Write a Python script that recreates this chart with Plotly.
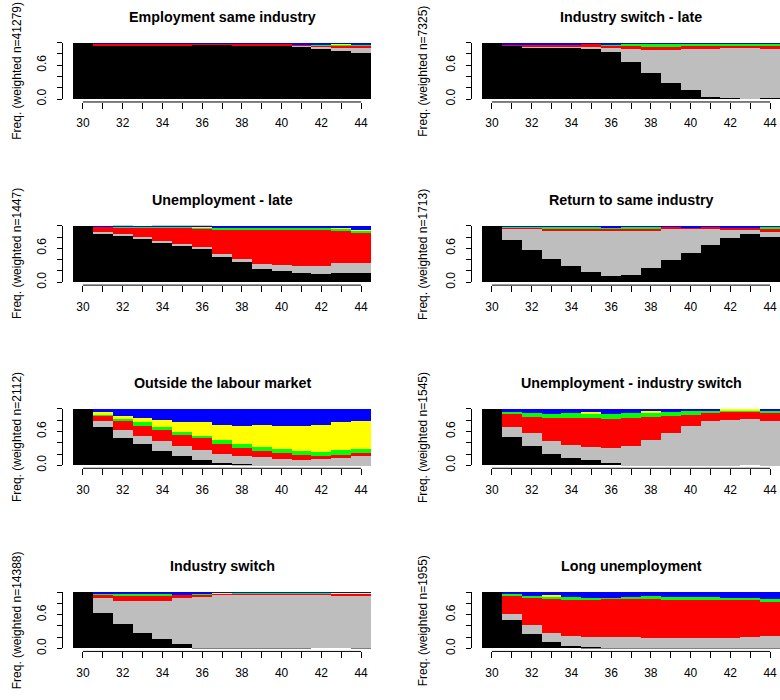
import plotly.graph_objects as go

ages = list(range(30, 45))
tick_labels = [str(a) if a % 2 == 0 else "" for a in ages]
y_ticks = [0, 0.2, 0.4, 0.6, 0.8, 1.0]
y_tick_labels = ["0.0", "", "", "0.6", "", ""]

state_colors = ["#000000", "#BEBEBE", "#FF0000", "#00FF00", "#FFFF00", "#0000FF"]

titles = ["Employment same industry", "Industry switch - late", "Unemployment - late",
          "Return to same industry", "Outside the labour market",
          "Unemployment - industry switch", "Industry switch", "Long unemployment"]
weighted_n = [41279, 7325, 1447, 1713, 2112, 1545, 14388, 1955]

# Panel 1: Employment same industry
p1_black = [1.0, 0.948, 0.948, 0.948, 0.948, 0.948, 0.971, 0.971, 0.948, 0.948, 0.948, 0.93, 0.901, 0.86, 0.831]
p1_grey = [0, 0, 0, 0, 0, 0, 0, 0, 0, 0, 0, 0.017, 0.029, 0.058, 0.087]
p1_red = [0, 0.035, 0.035, 0.035, 0.035, 0.035, 0.012, 0.012, 0.035, 0.035, 0.035, 0.035, 0.023, 0.029, 0.029]
p1_green = [0, 0, 0, 0, 0, 0, 0, 0, 0, 0, 0, 0, 0.029, 0.029, 0.035]
p1_yellow = [0, 0, 0, 0, 0, 0, 0, 0, 0, 0, 0, 0, 0, 0.007, 0]
p1_blue = [0, 0.017, 0.017, 0.017, 0.017, 0.017, 0.017, 0.017, 0.017, 0.017, 0.017, 0.017, 0.017, 0.017, 0.017]

# Panel 2: Industry switch - late
p2_black = [1.0, 0.948, 0.924, 0.924, 0.924, 0.895, 0.843, 0.657, 0.465, 0.291, 0.163, 0.047, 0.023, 0.006, 0.023]
p2_grey = [0, 0, 0.017, 0.017, 0.017, 0.041, 0.081, 0.244, 0.419, 0.593, 0.733, 0.849, 0.89, 0.913, 0.878]
p2_red = [0, 0.029, 0.035, 0.035, 0.035, 0.047, 0.023, 0.047, 0.052, 0.052, 0.052, 0.052, 0.035, 0.029, 0.047]
p2_green = [0, 0, 0, 0, 0, 0, 0.035, 0.035, 0.047, 0.047, 0.035, 0.035, 0.035, 0.035, 0.035]
p2_yellow = [0, 0, 0, 0, 0, 0, 0, 0, 0, 0, 0, 0, 0, 0, 0]
p2_blue = [0, 0.023, 0.023, 0.023, 0.023, 0.017, 0.017, 0.017, 0.017, 0.017, 0.017, 0.017, 0.017, 0.017, 0.017]

# Panel 3: Unemployment - late
p3_black = [1.0, 0.87, 0.835, 0.782, 0.712, 0.659, 0.594, 0.453, 0.365, 0.235, 0.206, 0.165, 0.147, 0.165, 0.165]
p3_grey = [0, 0.024, 0.018, 0.018, 0.024, 0.024, 0.03, 0.059, 0.047, 0.1, 0.106, 0.129, 0.147, 0.171, 0.188]
p3_red = [0, 0.094, 0.118, 0.17, 0.229, 0.282, 0.329, 0.429, 0.518, 0.594, 0.618, 0.635, 0.647, 0.582, 0.518]
p3_green = [0, 0, 0.018, 0.018, 0.024, 0.024, 0.018, 0.035, 0.047, 0.047, 0.047, 0.047, 0.035, 0.041, 0.047]
p3_yellow = [0, 0, 0, 0, 0, 0, 0.024, 0, 0, 0, 0, 0, 0, 0.018, 0.012]
p3_blue = [0, 0.012, 0.012, 0.012, 0.012, 0.012, 0.006, 0.024, 0.024, 0.024, 0.024, 0.024, 0.024, 0.024, 0.071]

# Panel 4: Return to same industry
p4_black = [1.0, 0.756, 0.581, 0.413, 0.291, 0.18, 0.122, 0.14, 0.256, 0.39, 0.523, 0.663, 0.779, 0.866, 0.814]
p4_grey = [0, 0.203, 0.372, 0.5, 0.622, 0.733, 0.802, 0.785, 0.669, 0.558, 0.424, 0.285, 0.145, 0.058, 0.087]
p4_red = [0, 0.006, 0.012, 0.047, 0.047, 0.047, 0.035, 0.035, 0.035, 0.035, 0.035, 0.035, 0.058, 0.058, 0.047]
p4_green = [0, 0.023, 0.023, 0.023, 0.023, 0.023, 0.023, 0.023, 0.023, 0, 0, 0, 0, 0, 0.035]
p4_yellow = [0, 0, 0, 0, 0, 0, 0, 0, 0, 0, 0, 0, 0, 0, 0]
p4_blue = [0, 0.012, 0.012, 0.017, 0.017, 0.017, 0.017, 0.017, 0.017, 0.017, 0.017, 0.017, 0.017, 0.017, 0.017]

# Panel 5: Outside the labour market
p5_black = [1.0, 0.676, 0.488, 0.371, 0.247, 0.159, 0.1, 0.047, 0.018, 0.012, 0.012, 0.012, 0.012, 0.012, 0.012]
p5_grey = [0, 0.106, 0.147, 0.159, 0.194, 0.182, 0.176, 0.159, 0.147, 0.135, 0.106, 0.088, 0.094, 0.124, 0.153]
p5_red = [0, 0.1, 0.147, 0.176, 0.188, 0.2, 0.206, 0.176, 0.141, 0.112, 0.106, 0.088, 0.053, 0.053, 0.059]
p5_green = [0, 0.018, 0.041, 0.059, 0.059, 0.047, 0.047, 0.071, 0.071, 0.076, 0.071, 0.071, 0.082, 0.076, 0.059]
p5_yellow = [0, 0.041, 0.047, 0.071, 0.124, 0.176, 0.235, 0.271, 0.329, 0.382, 0.412, 0.447, 0.482, 0.5, 0.5]
p5_blue = [0, 0.059, 0.129, 0.165, 0.188, 0.235, 0.235, 0.276, 0.294, 0.282, 0.294, 0.294, 0.276, 0.235, 0.218]

# Panel 6: Unemployment - industry switch
p6_black = [1.0, 0.512, 0.341, 0.206, 0.129, 0.088, 0.047, 0.012, 0.012, 0.012, 0.012, 0.012, 0.012, 0.0, 0.012]
p6_grey = [0, 0.176, 0.229, 0.224, 0.235, 0.235, 0.259, 0.329, 0.441, 0.559, 0.694, 0.771, 0.794, 0.824, 0.771]
p6_red = [0, 0.229, 0.288, 0.406, 0.471, 0.512, 0.518, 0.5, 0.406, 0.312, 0.188, 0.159, 0.153, 0.135, 0.159]
p6_green = [0, 0.035, 0.071, 0.082, 0.094, 0.082, 0.094, 0.088, 0.082, 0.071, 0.065, 0.035, 0.018, 0.018, 0.018]
p6_yellow = [0, 0, 0, 0, 0, 0.024, 0, 0, 0.018, 0, 0, 0, 0.024, 0.024, 0]
p6_blue = [0, 0.047, 0.071, 0.082, 0.071, 0.059, 0.082, 0.071, 0.041, 0.047, 0.041, 0.024, 0, 0, 0.041]

# Panel 7: Industry switch
p7_black = [1.0, 0.622, 0.436, 0.279, 0.163, 0.081, 0.012, 0.012, 0.012, 0.012, 0.012, 0.012, 0.0, 0.0, 0.012]
p7_grey = [0, 0.279, 0.407, 0.564, 0.68, 0.808, 0.901, 0.936, 0.936, 0.936, 0.936, 0.936, 0.948, 0.924, 0.913]
p7_red = [0, 0.058, 0.081, 0.081, 0.081, 0.058, 0.041, 0.023, 0.017, 0.017, 0.017, 0.017, 0.017, 0.041, 0.041]
p7_green = [0, 0.017, 0.041, 0.041, 0.041, 0.017, 0.017, 0, 0.023, 0.023, 0.023, 0.023, 0.023, 0, 0]
p7_yellow = [0, 0, 0, 0, 0, 0, 0, 0.017, 0, 0, 0, 0, 0, 0.023, 0.023]
p7_blue = [0, 0.023, 0.035, 0.035, 0.035, 0.035, 0.029, 0.012, 0.012, 0.012, 0.012, 0.012, 0.012, 0.012, 0.012]

# Panel 8: Long unemployment
p8_black = [1.0, 0.512, 0.253, 0.106, 0.047, 0.024, 0.012, 0.012, 0.012, 0.012, 0.012, 0.012, 0.012, 0.012, 0.012]
p8_grey = [0, 0.094, 0.171, 0.176, 0.176, 0.182, 0.182, 0.182, 0.176, 0.176, 0.176, 0.176, 0.176, 0.194, 0.212]
p8_red = [0, 0.335, 0.476, 0.6, 0.641, 0.659, 0.688, 0.688, 0.694, 0.676, 0.676, 0.676, 0.676, 0.659, 0.6]
p8_green = [0, 0.018, 0.029, 0.035, 0.047, 0.035, 0.018, 0.024, 0.047, 0.047, 0.047, 0.047, 0.035, 0.029, 0.059]
p8_yellow = [0, 0, 0, 0.024, 0, 0, 0, 0, 0, 0, 0, 0, 0, 0, 0]
p8_blue = [0, 0.041, 0.071, 0.059, 0.088, 0.1, 0.1, 0.094, 0.071, 0.088, 0.088, 0.088, 0.1, 0.106, 0.118]

panels = [
    [p1_black, p1_grey, p1_red, p1_green, p1_yellow, p1_blue],
    [p2_black, p2_grey, p2_red, p2_green, p2_yellow, p2_blue],
    [p3_black, p3_grey, p3_red, p3_green, p3_yellow, p3_blue],
    [p4_black, p4_grey, p4_red, p4_green, p4_yellow, p4_blue],
    [p5_black, p5_grey, p5_red, p5_green, p5_yellow, p5_blue],
    [p6_black, p6_grey, p6_red, p6_green, p6_yellow, p6_blue],
    [p7_black, p7_grey, p7_red, p7_green, p7_yellow, p7_blue],
    [p8_black, p8_grey, p8_red, p8_green, p8_yellow, p8_blue],
]

W, H = 780, 700
FONT = "Liberation Sans, Arial, sans-serif"

fig = go.Figure()
layout = dict(
    width=W, height=H, margin=dict(l=0, r=0, t=0, b=0),
    paper_bgcolor="white", plot_bgcolor="white",
    barmode="stack", bargap=0, showlegend=False,
    font=dict(family=FONT, size=12, color="black"),
)
annotations = []
shapes = []

for i, series in enumerate(panels):
    k = i + 1
    r, c = divmod(i, 2)
    top_px = 43 + 185 * r
    bot_px = 100 + 185 * r
    x_left = 73 if c == 0 else 482
    x_right = 371 if c == 0 else 780
    xname = "xaxis" if k == 1 else f"xaxis{k}"
    yname = "yaxis" if k == 1 else f"yaxis{k}"
    xref = "x" if k == 1 else f"x{k}"
    yref = "y" if k == 1 else f"y{k}"

    for vals, col in zip(series, state_colors):
        fig.add_trace(go.Bar(
            x=ages, y=vals, xaxis=xref, yaxis=yref, width=1,
            marker=dict(color=col, line=dict(width=0)),
            hoverinfo="skip", showlegend=False,
        ))

    xpos = 1 - (bot_px + 3) / H
    layout[xname] = dict(
        domain=[x_left / W, x_right / W], range=[29.5, 44.5],
        anchor="free", position=xpos,
        tickmode="array", tickvals=ages, ticktext=tick_labels,
        ticks="outside", ticklen=6, tickcolor="black", tickwidth=1,
        ticklabelstandoff=4,
        showline=False, showgrid=False, zeroline=False,
        tickfont=dict(family=FONT, size=12, color="black"),
        fixedrange=True,
    )
    layout[yname] = dict(
        domain=[1 - bot_px / H, 1 - top_px / H], range=[0, 1],
        anchor="free", position=(x_left - 11) / W,
        tickmode="array", tickvals=y_ticks, ticktext=y_tick_labels,
        ticks="outside", ticklen=5, tickcolor="black", tickwidth=1,
        tickangle=-90, ticklabelstandoff=6,
        showline=True, linecolor="black", linewidth=1,
        showgrid=False, zeroline=False,
        tickfont=dict(family=FONT, size=12, color="black"),
        fixedrange=True,
    )
    shapes.append(dict(type="line", xref=xref, yref="paper",
                       x0=ages[0], x1=ages[-1], y0=xpos, y1=xpos,
                       line=dict(color="black", width=1)))
    annotations.append(dict(
        text=f"<b>{titles[i]}</b>", xref="paper", yref="paper",
        x=(x_left + x_right) / 2 / W, y=1 - (17 + 185 * r) / H,
        xanchor="center", yanchor="middle", showarrow=False,
        font=dict(family=FONT, size=14.3, color="black"),
    ))
    annotations.append(dict(
        text=f"Freq. (weighted n={weighted_n[i]})", xref="paper", yref="paper",
        x=(17 if c == 0 else 423) / W, y=1 - (71.5 + 185 * r) / H,
        xanchor="center", yanchor="middle", textangle=-90, showarrow=False,
        font=dict(family=FONT, size=12, color="black"),
    ))

layout["annotations"] = annotations
layout["shapes"] = shapes
fig.update_layout(**layout)
fig.write_html("out.html")
